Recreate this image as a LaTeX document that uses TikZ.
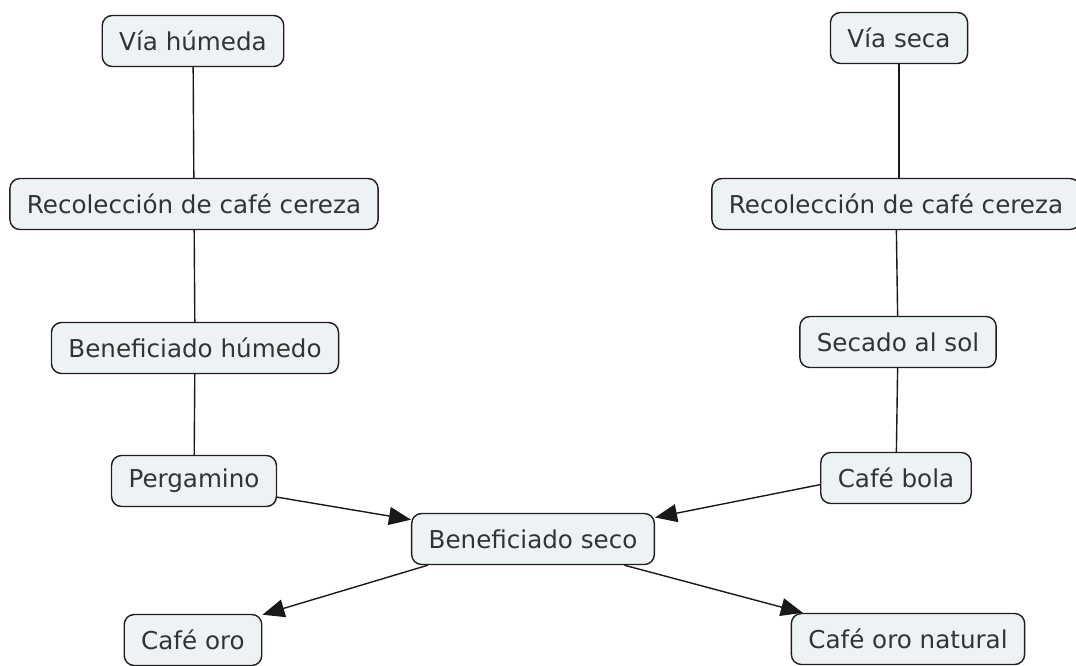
\documentclass[tikz,border=0pt]{standalone}
\usepackage{fontspec}
\setmainfont{DejaVu Sans}
\usetikzlibrary{arrows.meta}
\usetikzlibrary{positioning}
\definecolor{boxfill}{RGB}{237,243,245}
\definecolor{boxline}{RGB}{30,30,30}
\tikzstyle{concept} = [draw=boxline, line width=1.4pt, fill=boxfill, rounded corners=10pt, minimum height=51pt, inner xsep=17pt, font=\fontsize{24.6}{28}\selectfont, text=black!80]
\tikzstyle{link} = [line width=1.4pt, black!90]
\tikzstyle{flow} = [link, -{Triangle[length=22pt, width=18pt]}]

\begin{document}
\begin{tikzpicture}[x=1pt, y=-1pt]
  \useasboundingbox (0,0) rectangle (1076,665);

  % via humeda
  \node[concept] (vh) at (193,41) {Vía húmeda};
  \node[concept] (rcl) at (194,204) {Recolección de café cereza};
  \node[concept] (bh) at (195,348) {Beneficiado húmedo};
  \node[concept] (perg) at (194,481) {Pergamino};

  % via seca
  \node[concept] (vs) at (899,38) {Vía seca};
  \node[concept] (rcr) at (896,204) {Recolección de café cereza};
  \node[concept] (sol) at (898,342) {Secado al sol};
  \node[concept] (bola) at (896,478) {Café bola};

  \node[concept] (bs) at (533,539) {Beneficiado seco};
  \node[concept] (oro) at (193,640) {Café oro};
  \node[concept] (oron) at (908,639) {Café oro natural};

  \draw[link] (vh) -- (rcl);
  \draw[link] (rcl) -- (bh);
  \draw[link] (bh) -- (perg);
  \draw[link] (vs) -- (vs |- rcr.north);
  \draw[link] (rcr) -- (sol);
  \draw[link] (sol) -- (bola);

  \draw[flow] (perg.-11) -- (bs.171);
  \draw[flow] (bola.185) -- (bs.10);
  \draw[flow] (bs.-166) -- (oro.20);
  \draw[flow] (bs.-16) -- (oron.166);
\end{tikzpicture}
\end{document}
